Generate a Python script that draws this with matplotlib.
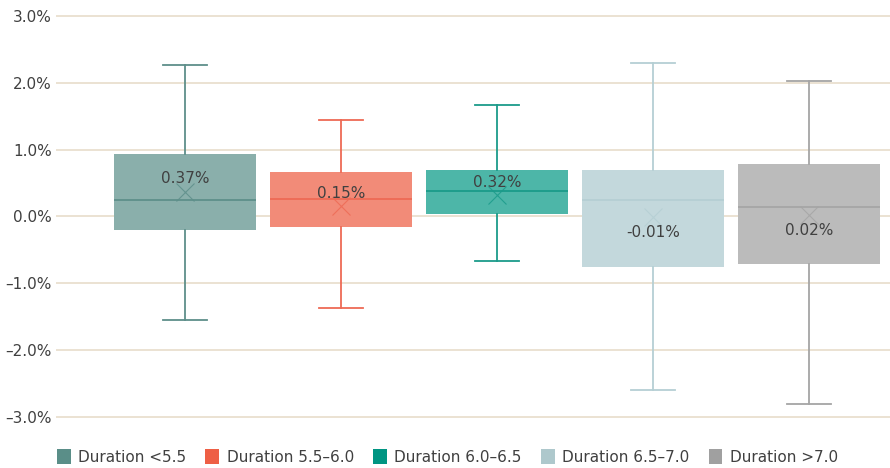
import matplotlib.pyplot as plt
from matplotlib.patches import Patch

# Datos (en %)
etiquetas = ["Duration <5.5", "Duration 5.5\u20136.0", "Duration 6.0\u20136.5",
             "Duration 6.5\u20137.0", "Duration >7.0"]
bigote_sup = [2.27, 1.44, 1.66, 2.30, 2.03]
q3 = [0.94, 0.67, 0.70, 0.70, 0.78]
mediana = [0.24, 0.26, 0.38, 0.25, 0.14]
q1 = [-0.20, -0.15, 0.04, -0.76, -0.71]
bigote_inf = [-1.54, -1.37, -0.66, -2.60, -2.81]
media = [0.37, 0.15, 0.32, -0.01, 0.02]
ticks_y = [-3, -2, -1, 0, 1, 2, 3]
ticks_txt = ["\u20133.0%", "\u20132.0%", "\u20131.0%", "0.0%", "1.0%", "2.0%", "3.0%"]

colores = ["#5A8E88", "#EE5F45", "#009582", "#AEC8CC", "#A0A0A0"]
rellenos = ["#8AAFAB", "#F28B78", "#4DB6A8", "#C3D8DC", "#BBBBBB"]
lineas = ["#5E8F8A", "#EE6A55", "#1B9B8A", "#B5CFD4", "#A5A5A5"]

fig = plt.figure(figsize=(8.9, 4.68), dpi=100)
ax = fig.add_axes([56/890, 0.1015, 834/890, 0.8718])

# líneas de rejilla
for v in ticks_y:
    ax.axhline(v, color="#E8DDCB", linewidth=1.2, zorder=0)

for i in range(5):
    st = dict(med=mediana[i], q1=q1[i], q3=q3[i],
              whislo=bigote_inf[i], whishi=bigote_sup[i],
              mean=media[i], fliers=[])
    ax.bxp([st], positions=[i], widths=0.91, patch_artist=True,
           showmeans=False, showfliers=False,
           boxprops=dict(facecolor=rellenos[i], edgecolor="none"),
           medianprops=dict(color=lineas[i], linewidth=1.3),
           whiskerprops=dict(color=lineas[i], linewidth=1.3),
           capprops=dict(color=lineas[i], linewidth=1.3),
           capwidths=0.28, manage_ticks=False)
    ax.plot(i, media[i], marker="x", markersize=13, markeredgewidth=0.8,
            color=lineas[i], alpha=0.85, zorder=5)
    texto = "%.2f%%" % media[i]
    if i < 3:
        ax.text(i, media[i] + 0.08, texto, ha="center", va="bottom",
                fontsize=11, color="#404040", zorder=6)
    else:
        ax.text(i, media[i] - 0.12, texto, ha="center", va="top",
                fontsize=11, color="#404040", zorder=6)

ax.set_xlim(-0.827, 4.519)
ax.set_ylim(-3.05, 3.05)
ax.set_yticks(ticks_y)
ax.set_yticklabels(ticks_txt)
ax.tick_params(axis="y", length=0, labelsize=11, labelcolor="#404040", pad=3)
ax.set_xticks([])
for s in ax.spines.values():
    s.set_visible(False)

handles = [Patch(facecolor=colores[i], edgecolor="none") for i in range(5)]
fig.legend(handles, etiquetas, loc="center left", bbox_to_anchor=(43/890, 11/468),
           ncol=5, frameon=False, fontsize=11, handlelength=0.9, handleheight=1.1,
           handletextpad=0.5, columnspacing=1.25, labelcolor="#404040")

plt.savefig("out.png")
